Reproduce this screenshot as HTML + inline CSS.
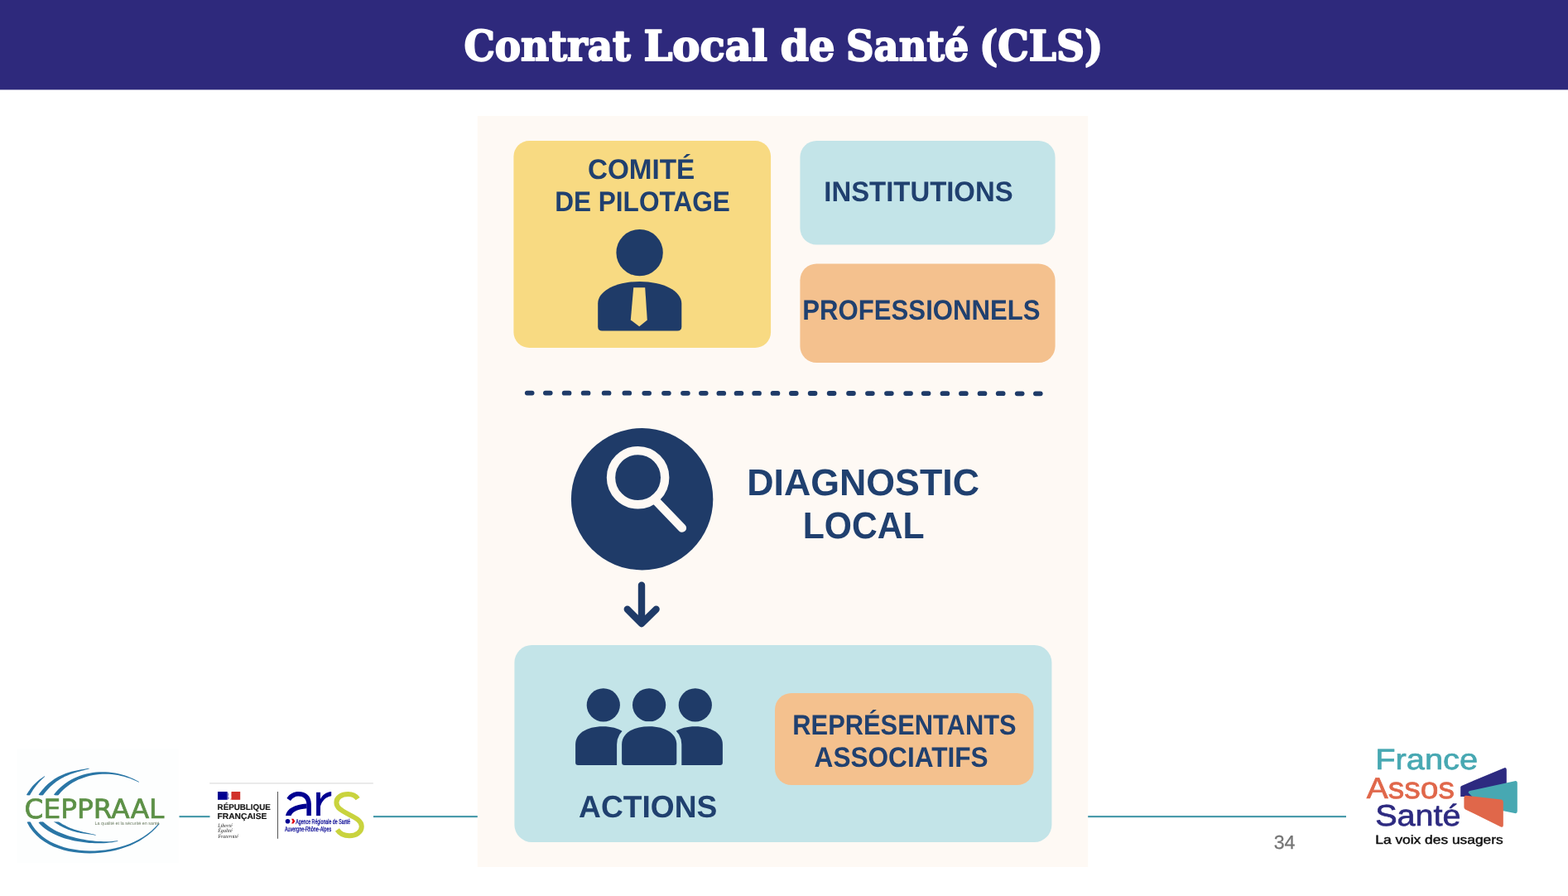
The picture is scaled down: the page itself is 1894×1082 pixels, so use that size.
<!DOCTYPE html>
<html lang="fr">
<head>
<meta charset="utf-8">
<title>Contrat Local de Santé (CLS)</title>
<style>
html,body{margin:0;padding:0;background:#fff;}
body{width:1894px;height:1082px;overflow:hidden;position:relative;font-family:"Liberation Sans",sans-serif;}
svg text{text-rendering:geometricPrecision;}
svg{position:absolute;left:0;top:0;display:block;will-change:transform;}
.t{font-family:"Liberation Sans",sans-serif;font-weight:700;fill:#20406f;}
.title{font-family:"DejaVu Serif","Liberation Serif",serif;font-weight:700;fill:#fff;stroke:#fff;stroke-width:2px;stroke-linejoin:round;}
</style>
</head>
<body>
<svg width="1894" height="1082" viewBox="0 0 1894 1082">
<!-- HEADER -->
<rect x="0" y="0" width="1894" height="108.4" fill="#2e297c"/>
<!-- TITLE -->
<text class="title" font-size="50.5" y="72.9"><tspan x="560.4" textLength="201.4" lengthAdjust="spacingAndGlyphs">Contrat</tspan> <tspan x="777.4" textLength="149.6" lengthAdjust="spacingAndGlyphs">Local</tspan> <tspan x="942.8" textLength="65.6" lengthAdjust="spacingAndGlyphs">de</tspan> <tspan x="1022.0" textLength="148.4" lengthAdjust="spacingAndGlyphs">Santé</tspan> <tspan x="1183.0" textLength="149.4" lengthAdjust="spacingAndGlyphs">(CLS)</tspan></text>
<!-- /TITLE -->

<!-- FOOTER LINE -->
<g fill="#4a9bab">
<rect x="216.5" y="985" width="37" height="2.2"/>
<rect x="451" y="985" width="126" height="2.2"/>
<rect x="1314" y="985" width="312" height="2.2"/>
</g>

<!-- PANEL -->
<rect x="576.8" y="140" width="737.4" height="907" fill="#fef9f4"/>

<!-- yellow box -->
<rect x="620.4" y="170" width="310.7" height="250" rx="19" fill="#f8da82"/>
<text class="t" x="709.9" y="215.5" font-size="34" textLength="129.4" lengthAdjust="spacingAndGlyphs">COMITÉ</text>
<text class="t" x="670.2" y="255" font-size="34" textLength="211.6" lengthAdjust="spacingAndGlyphs">DE PILOTAGE</text>
<g id="person" fill="#1f3b68">
<circle cx="772.6" cy="305.1" r="28.2"/>
<path d="M722.2 394.4 V366.5 C722.2 351 745 339.9 772.7 339.9 C800.5 339.9 823.3 351 823.3 366.5 V394.4 Q823.3 399.5 818.2 399.5 H727.3 Q722.2 399.5 722.2 394.4 Z"/>
<path d="M765.2 347.2 H779.2 L781.8 386.4 L772.2 394.2 L761.8 386.4 Z" fill="#f8da82"/>
</g>

<!-- institutions -->
<rect x="966.4" y="170" width="308.2" height="125.6" rx="20" fill="#c3e4e8"/>
<text class="t" x="995.3" y="242.5" font-size="34" textLength="228.3" lengthAdjust="spacingAndGlyphs">INSTITUTIONS</text>
<!-- professionnels -->
<rect x="966.4" y="318.4" width="308.2" height="119.6" rx="20" fill="#f4c18e"/>
<text class="t" x="969.3" y="386" font-size="34" textLength="287.3" lengthAdjust="spacingAndGlyphs">PROFESSIONNELS</text>

<!-- dashed line -->
<g id="dashes" fill="#1f3b68">
<rect x="633.9" y="471.7" width="11.6" height="5.8" rx="2.9"/>
<rect x="656.0" y="471.7" width="11.6" height="5.8" rx="2.9"/>
<rect x="678.8" y="471.8" width="11.6" height="5.8" rx="2.9"/>
<rect x="701.8" y="471.8" width="11.6" height="5.8" rx="2.9"/>
<rect x="726.8" y="471.8" width="11.6" height="5.8" rx="2.9"/>
<rect x="751.5" y="471.8" width="11.6" height="5.8" rx="2.9"/>
<rect x="775.4" y="471.9" width="11.6" height="5.8" rx="2.9"/>
<rect x="799.1" y="471.9" width="11.6" height="5.8" rx="2.9"/>
<rect x="822.1" y="471.9" width="11.6" height="5.8" rx="2.9"/>
<rect x="844.0" y="471.9" width="11.6" height="5.8" rx="2.9"/>
<rect x="865.5" y="472.0" width="11.6" height="5.8" rx="2.9"/>
<rect x="886.7" y="472.0" width="11.6" height="5.8" rx="2.9"/>
<rect x="908.3" y="472.0" width="11.6" height="5.8" rx="2.9"/>
<rect x="930.7" y="472.0" width="11.6" height="5.8" rx="2.9"/>
<rect x="953.0" y="472.1" width="11.6" height="5.8" rx="2.9"/>
<rect x="975.8" y="472.1" width="11.6" height="5.8" rx="2.9"/>
<rect x="998.8" y="472.1" width="11.6" height="5.8" rx="2.9"/>
<rect x="1022.2" y="472.1" width="11.6" height="5.8" rx="2.9"/>
<rect x="1045.1" y="472.2" width="11.6" height="5.8" rx="2.9"/>
<rect x="1068.1" y="472.2" width="11.6" height="5.8" rx="2.9"/>
<rect x="1091.3" y="472.2" width="11.6" height="5.8" rx="2.9"/>
<rect x="1112.8" y="472.2" width="11.6" height="5.8" rx="2.9"/>
<rect x="1135.6" y="472.3" width="11.6" height="5.8" rx="2.9"/>
<rect x="1158.1" y="472.3" width="11.6" height="5.8" rx="2.9"/>
<rect x="1180.7" y="472.3" width="11.6" height="5.8" rx="2.9"/>
<rect x="1202.9" y="472.3" width="11.6" height="5.8" rx="2.9"/>
<rect x="1225.9" y="472.4" width="11.6" height="5.8" rx="2.9"/>
<rect x="1248.0" y="472.4" width="11.6" height="5.8" rx="2.9"/>
</g>

<!-- circle + magnifier -->
<circle cx="775.6" cy="602.7" r="85.7" fill="#1f3b68"/>
<circle cx="770.6" cy="576.7" r="32.6" fill="none" stroke="#fef9f4" stroke-width="10.4"/>
<line x1="790.6" y1="603" x2="823.9" y2="637.6" stroke="#fef9f4" stroke-width="10.4" stroke-linecap="round"/>
<text class="t" x="902.2" y="597.5" font-size="45" textLength="280.8" lengthAdjust="spacingAndGlyphs">DIAGNOSTIC</text>
<text class="t" x="969.7" y="649.8" font-size="45" textLength="147.0" lengthAdjust="spacingAndGlyphs">LOCAL</text>

<!-- arrow -->
<path d="M775 706.8 V752 M757.8 735.8 L775 753 L792.6 735.8" fill="none" stroke="#1f3b68" stroke-width="8.4" stroke-linecap="round" stroke-linejoin="round"/>

<!-- bottom box -->
<rect x="621.4" y="779" width="649" height="238" rx="21" fill="#c3e4e8"/>
<g id="people" fill="#1f3b68">
<circle cx="728.8" cy="851.4" r="20.1"/>
<circle cx="839.8" cy="851.4" r="20.1"/>
<circle cx="784.1" cy="851.4" r="20.1"/>
<path d="M695.1 920.7 V899.0 C695.1 885.9 708.3 877.2 728.2 877.2 C748.1 877.2 761.3 885.9 761.3 899.0 V920.7 Q761.3 923.9 758.1 923.9 H698.3 Q695.1 923.9 695.1 920.7 Z"/>
<path d="M806.7 920.7 V899.0 C806.7 885.9 819.9 877.2 839.8 877.2 C859.7 877.2 872.9 885.9 872.9 899.0 V920.7 Q872.9 923.9 869.7 923.9 H809.9 Q806.7 923.9 806.7 920.7 Z"/>
<path d="M751.1 939.9 V899.0 C751.1 885.9 764.3 877.2 784.2 877.2 C804.1 877.2 817.3 885.9 817.3 899.0 V939.9 Q817.3 940.0 817.2 940.0 H751.2 Q751.1 940.0 751.1 939.9 Z" fill="#c3e4e8" stroke="#c3e4e8" stroke-width="12" stroke-linejoin="miter"/>
<path d="M751.1 920.7 V899.0 C751.1 885.9 764.3 877.2 784.2 877.2 C804.1 877.2 817.3 885.9 817.3 899.0 V920.7 Q817.3 923.9 814.1 923.9 H754.3 Q751.1 923.9 751.1 920.7 Z"/>
</g>
<text class="t" x="699.1" y="986.8" font-size="37.5" textLength="167.2" lengthAdjust="spacingAndGlyphs">ACTIONS</text>
<rect x="936" y="837" width="312.5" height="111" rx="20" fill="#f4c18e"/>
<text class="t" x="957.3" y="886.6" font-size="34" textLength="270.3" lengthAdjust="spacingAndGlyphs">REPRÉSENTANTS</text>
<text class="t" x="983.6" y="926" font-size="34" textLength="210.0" lengthAdjust="spacingAndGlyphs">ASSOCIATIFS</text>


<!-- ===== CEPPRAAL logo ===== -->
<g id="ceppraal">
<rect x="20.5" y="904" width="195" height="138" fill="#fdfefe"/>
<g fill="#2a76a6">
<g>
<path d="M35.3 961.9 L35.8 960.9 L36.3 960.0 L36.8 959.0 L37.3 958.1 L37.9 957.2 L38.4 956.3 L39.0 955.4 L39.5 954.5 L40.1 953.6 L40.7 952.8 L41.3 951.9 L41.9 951.0 L42.6 950.2 L43.2 949.4 L43.8 948.5 L44.5 947.7 L45.2 946.9 L45.9 946.1 L46.6 945.3 L47.3 944.5 L48.0 943.7 L48.7 942.9 L49.5 942.2 L50.2 941.4 L51.0 940.7 L51.8 939.9 L52.6 939.2 L53.4 938.4 L54.3 937.7 L53.9 937.3 L53.0 937.8 L52.0 938.4 L51.1 939.0 L50.2 939.7 L49.3 940.3 L48.4 940.9 L47.5 941.6 L46.7 942.3 L45.8 943.0 L45.0 943.7 L44.2 944.4 L43.4 945.2 L42.6 945.9 L41.8 946.7 L41.0 947.5 L40.3 948.3 L39.5 949.1 L38.8 950.0 L38.1 950.8 L37.4 951.7 L36.8 952.6 L36.1 953.5 L35.5 954.4 L34.8 955.3 L34.2 956.2 L33.6 957.2 L33.0 958.1 L32.5 959.1 L31.9 960.1Z"/>
<path d="M50.6 962.4 L51.9 960.5 L53.3 958.6 L54.7 956.8 L56.2 954.9 L57.8 953.2 L59.4 951.5 L61.1 949.8 L62.8 948.2 L64.5 946.7 L66.4 945.2 L68.2 943.8 L70.2 942.5 L72.1 941.2 L74.1 940.0 L76.2 938.9 L78.3 937.8 L80.4 936.9 L82.6 935.9 L84.8 935.1 L87.1 934.3 L89.4 933.5 L91.7 932.8 L94.0 932.1 L96.3 931.5 L98.6 930.8 L101.0 930.2 L103.3 929.6 L105.6 929.0 L107.9 928.3 L107.7 927.7 L105.4 928.1 L103.0 928.5 L100.7 928.9 L98.3 929.3 L95.9 929.7 L93.5 930.2 L91.1 930.7 L88.7 931.2 L86.3 931.8 L84.0 932.5 L81.6 933.2 L79.3 934.0 L77.0 934.9 L74.7 935.9 L72.5 936.9 L70.3 938.1 L68.2 939.3 L66.0 940.6 L64.0 942.0 L62.0 943.5 L60.0 945.0 L58.1 946.6 L56.3 948.3 L54.5 950.1 L52.8 951.9 L51.2 953.8 L49.6 955.7 L48.1 957.6 L46.6 959.6Z"/>
<path d="M68.9 962.4 L71.1 959.4 L73.6 956.6 L76.1 954.0 L78.9 951.5 L81.8 949.2 L84.8 947.1 L87.9 945.1 L91.2 943.3 L94.5 941.6 L98.0 940.2 L101.5 938.9 L105.1 937.8 L108.7 936.8 L112.4 936.1 L116.1 935.5 L119.9 935.1 L123.6 934.8 L127.4 934.7 L131.2 934.8 L135.0 935.1 L138.7 935.5 L142.5 936.1 L146.2 936.9 L149.9 937.8 L153.5 938.9 L157.1 940.1 L160.6 941.5 L164.1 943.0 L167.6 944.7 L167.9 944.0 L164.5 942.2 L161.1 940.5 L157.5 938.9 L153.9 937.5 L150.3 936.3 L146.6 935.2 L142.8 934.3 L139.0 933.5 L135.2 932.9 L131.4 932.5 L127.5 932.3 L123.6 932.2 L119.7 932.3 L115.8 932.6 L111.9 933.1 L108.1 933.7 L104.2 934.6 L100.4 935.6 L96.7 936.8 L93.0 938.2 L89.5 939.8 L86.0 941.6 L82.6 943.6 L79.3 945.8 L76.1 948.2 L73.1 950.7 L70.2 953.5 L67.5 956.4 L65.0 959.6Z"/>
<path d="M32.5 992.8 L35.8 998.8 L39.7 1004.1 L44.1 1008.8 L48.8 1012.9 L53.9 1016.6 L59.3 1019.7 L64.9 1022.4 L70.7 1024.6 L76.7 1026.5 L82.9 1027.9 L89.2 1029.0 L95.5 1029.8 L101.9 1030.3 L108.3 1030.4 L114.7 1030.3 L121.1 1029.8 L127.4 1029.1 L133.7 1028.0 L139.8 1026.7 L145.8 1025.1 L151.7 1023.1 L157.5 1020.9 L163.1 1018.3 L168.5 1015.4 L173.7 1012.1 L178.8 1008.5 L183.6 1004.4 L188.2 1000.0 L192.6 995.0 L191.8 994.3 L187.3 999.1 L182.7 1003.4 L177.8 1007.2 L172.8 1010.7 L167.6 1013.8 L162.2 1016.6 L156.7 1019.0 L151.0 1021.0 L145.2 1022.8 L139.2 1024.3 L133.2 1025.5 L127.1 1026.4 L120.8 1027.0 L114.6 1027.4 L108.3 1027.4 L102.1 1027.2 L95.8 1026.7 L89.7 1025.8 L83.6 1024.7 L77.6 1023.2 L71.9 1021.3 L66.3 1019.1 L60.9 1016.5 L55.9 1013.5 L51.1 1010.0 L46.7 1006.1 L42.7 1001.7 L39.1 996.7 L35.9 991.1Z"/>
<path d="M46.6 993.6 L49.2 996.3 L51.9 998.7 L54.8 1001.0 L57.7 1003.0 L60.7 1004.8 L63.9 1006.5 L67.0 1008.1 L70.3 1009.5 L73.5 1010.7 L76.8 1011.9 L80.2 1012.9 L83.6 1013.8 L87.0 1014.7 L90.4 1015.4 L93.9 1016.1 L97.4 1016.6 L100.8 1017.1 L104.3 1017.5 L107.8 1017.9 L111.3 1018.1 L114.7 1018.3 L118.2 1018.3 L121.7 1018.3 L125.2 1018.2 L128.6 1018.0 L132.1 1017.6 L135.5 1017.2 L138.9 1016.6 L142.4 1015.9 L142.2 1015.2 L138.8 1015.6 L135.4 1016.0 L132.0 1016.2 L128.5 1016.2 L125.1 1016.2 L121.7 1016.1 L118.3 1015.9 L114.9 1015.7 L111.5 1015.3 L108.1 1014.9 L104.7 1014.4 L101.3 1013.8 L98.0 1013.2 L94.6 1012.5 L91.3 1011.7 L88.0 1010.8 L84.7 1009.9 L81.5 1008.9 L78.3 1007.8 L75.1 1006.6 L72.0 1005.3 L69.0 1003.9 L66.0 1002.4 L63.2 1000.7 L60.4 999.0 L57.7 997.0 L55.1 995.0 L52.6 992.7 L50.3 990.3Z"/>
<path d="M64.8 992.2 L66.4 993.2 L67.9 994.3 L69.5 995.3 L71.1 996.2 L72.7 997.2 L74.4 998.1 L76.1 999.0 L77.8 999.8 L79.5 1000.6 L81.2 1001.3 L83.0 1002.0 L84.8 1002.6 L86.6 1003.2 L88.4 1003.8 L90.2 1004.3 L92.0 1004.7 L93.8 1005.2 L95.6 1005.5 L97.5 1005.9 L99.3 1006.2 L101.1 1006.5 L103.0 1006.8 L104.8 1007.0 L106.6 1007.3 L108.5 1007.5 L110.3 1007.8 L112.1 1008.1 L113.9 1008.4 L115.8 1008.7 L115.8 1008.3 L114.1 1007.8 L112.3 1007.3 L110.5 1006.9 L108.7 1006.5 L106.9 1006.1 L105.0 1005.7 L103.2 1005.3 L101.4 1004.9 L99.6 1004.5 L97.9 1004.0 L96.1 1003.6 L94.3 1003.1 L92.6 1002.6 L90.8 1002.0 L89.1 1001.5 L87.4 1000.8 L85.7 1000.2 L84.0 999.5 L82.4 998.7 L80.7 998.0 L79.1 997.1 L77.5 996.3 L75.9 995.4 L74.3 994.5 L72.8 993.5 L71.3 992.5 L69.7 991.5 L68.2 990.5 L66.8 989.4Z"/>
</g>
</g>
<rect x="24" y="960.4" width="188" height="32" fill="#fdfefe"/>
<text x="29.6" y="987.5" font-family="DejaVu Sans, Liberation Sans, sans-serif" font-size="32" fill="#5c9046" stroke="#5c9046" stroke-width="0.7" textLength="168.8" lengthAdjust="spacingAndGlyphs">CEPPRAAL</text>
<text x="114.6" y="996" font-family="Liberation Sans, sans-serif" font-size="5.4" fill="#6c7d63" textLength="78" lengthAdjust="spacingAndGlyphs">La qualité et la sécurité en santé</text>
</g>

<!-- ===== Republique Francaise / ARS logo ===== -->
<g id="ars">
<rect x="253.2" y="945" width="197.6" height="1.7" fill="#e6e6e6"/>
<rect x="263" y="956" width="11.6" height="9.8" fill="#000091"/>
<rect x="279.6" y="956" width="10.6" height="9.8" fill="#d1312a"/>
<path d="M274.6 956 L276.4 959 L275.6 962 L277 964 L275 965.8 H274.6 Z" fill="#000091" opacity=".55"/>
<path d="M279.6 956 L280.6 960 L279.6 962.5 L278.2 965.8 H279.6 Z" fill="#d1312a" opacity=".7"/>
<text x="262.6" y="977.6" font-family="Liberation Sans, sans-serif" font-weight="700" font-size="10" fill="#161616" stroke="#161616" stroke-width="0.15" textLength="64.2" lengthAdjust="spacingAndGlyphs">RÉPUBLIQUE</text>
<text x="262.6" y="988.8" font-family="Liberation Sans, sans-serif" font-weight="700" font-size="10.1" fill="#161616" stroke="#161616" stroke-width="0.15" textLength="59.7" lengthAdjust="spacingAndGlyphs">FRANÇAISE</text>
<g font-family="Liberation Serif, serif" font-style="italic" font-size="6.4" fill="#222">
<text x="263.2" y="998.6" textLength="17.4" lengthAdjust="spacingAndGlyphs">Liberté</text>
<text x="263.2" y="1005.2" textLength="17.4" lengthAdjust="spacingAndGlyphs">Égalité</text>
<text x="263.4" y="1011.8" textLength="24.4" lengthAdjust="spacingAndGlyphs">Fraternité</text>
</g>
<rect x="335" y="956" width="1" height="56.8" fill="#555"/>
<!-- a -->
<g fill="#000091">
<path d="M346.4 963.9 C350 958.4 355 956 360.6 956 C370 956 375.9 961.6 375.9 971 V985.1 H370.4 V971.6 C370.4 964.6 366.6 961.4 360.4 961.4 C356.6 961.4 353.6 963.2 351 967 Z"/>
<path d="M345 985.1 C346.6 976 356 971.6 370.6 970.4 V976.2 C360 977.2 353.6 979.6 351.6 985.1 Z"/>
<!-- r -->
<path d="M382.1 956.8 H387 V985.1 H382.1 Z"/>
<path d="M386.6 966 C389 960 394 956.6 400.2 956 V961.3 C393.6 962.4 389 966.4 386.6 975 Z"/>
</g>
<!-- S -->
<path d="M432.2 964.6 C429.4 960.6 425.4 959 420.6 959 C412.4 959 406.4 963 406.4 969 C406.4 975 411 978.2 421.6 983.6 C431 988.4 436.8 991.6 436.8 998 C436.8 1004.6 430.6 1009.2 422 1009.2 C415.4 1009.2 410.4 1006.6 407.4 1002" fill="none" stroke="#c9d33e" stroke-width="6"/>
<circle cx="347.5" cy="991.8" r="2.8" fill="#000091"/>
<path d="M352 988.8 H354.4 L356.4 991.8 L354.4 994.6 H352 L353.6 991.8 Z" fill="#e1000f"/>
<text x="357.2" y="994.8" font-family="Liberation Sans, sans-serif" font-size="8.4" fill="#000091" stroke="#000091" stroke-width="0.25" textLength="65.8" lengthAdjust="spacingAndGlyphs">Agence Régionale de Santé</text>
<text x="344" y="1003.8" font-family="Liberation Sans, sans-serif" font-size="8.4" fill="#000091" stroke="#000091" stroke-width="0.25" textLength="56.2" lengthAdjust="spacingAndGlyphs">Auvergne-Rhône-Alpes</text>
</g>

<!-- ===== France Assos Sante logo ===== -->
<g id="fas">
<path d="M1764.2 950.6 Q1764.2 949.4 1765.4 948.9 L1816.6 927.4 Q1819.8 926.2 1819.8 929.6 V962 H1764.2 Z" fill="#2d2a80"/>
<path d="M1773.6 957.2 Q1773.6 955.4 1775.4 955 L1829.6 943.2 Q1832.8 942.6 1832.8 945.8 V979.6 Q1832.8 982.8 1829.6 982 L1790 974 Z" fill="#47a8b2"/>
<path d="M1768.4 963.2 Q1768.4 960.4 1771.2 960.8 L1813 965.6 Q1815.8 966 1815.8 968.8 V996.6 Q1815.8 999.8 1812.8 998.4 L1770 977.4 Q1768.4 976.6 1768.4 974.8 Z" fill="#e0674a"/>
<g font-family="Liberation Sans, sans-serif" stroke-width="0.7">
<text x="1661.3" y="928.8" font-size="35.2" fill="#47a8b2" stroke="#47a8b2" textLength="123.8" lengthAdjust="spacingAndGlyphs">France</text>
<text x="1650.8" y="963.5" font-size="36" fill="#e0674a" stroke="#e0674a" textLength="106.1" lengthAdjust="spacingAndGlyphs">Assos</text>
<text x="1661.2" y="997.4" font-size="36" fill="#2d2a80" stroke="#2d2a80" textLength="103.3" lengthAdjust="spacingAndGlyphs">Santé</text>
<text x="1661.3" y="1019.4" font-size="15" fill="#111" stroke="#111" stroke-width="0.45" textLength="154.4" lengthAdjust="spacingAndGlyphs">La voix des usagers</text>
</g>
</g>

<!-- page number -->
<text x="1538.7" y="1025.3" font-size="23.2" font-family="Liberation Sans, sans-serif" fill="#757575" stroke="#757575" stroke-width="0.3">34</text>
</svg>
</body>
</html>
